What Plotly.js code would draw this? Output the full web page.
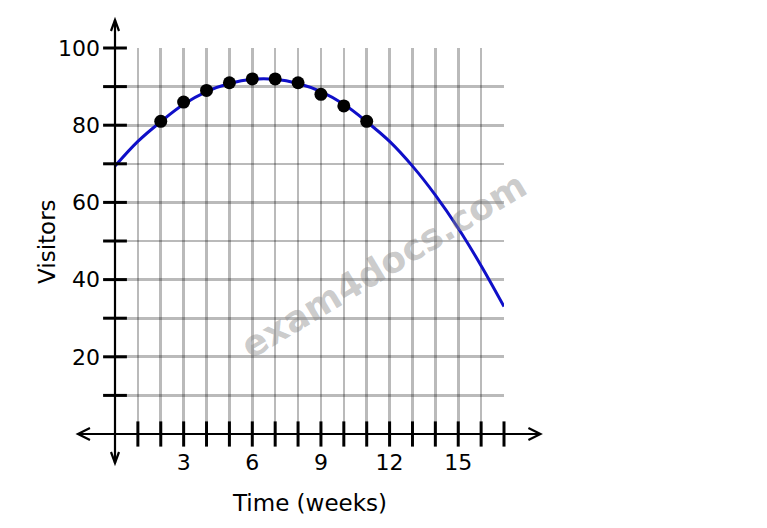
<!DOCTYPE html>
<html>
<head>
<meta charset="utf-8">
<script src="https://cdn.plot.ly/plotly-3.0.1.min.js"></script>
<style>html,body{margin:0;padding:0;background:#fff;}#chart{width:767px;height:528px;}</style>
</head>
<body>
<div id="chart"></div>
<script>
// Data
var curveWeeks = [0,1,2,3,4,5,6,7,8,9,10,11,12,13,14,15,16,17];
var curveVisitors = [69.4,75.8,80.9,85.4,88.7,90.8,91.9,91.9,90.8,88.7,85.4,80.9,75.8,69.4,61.9,53.3,43.6,33];
var pointWeeks = [2,3,4,5,6,7,8,9,10,11];
var pointVisitors = [81,86,89,91,92,92,91,88,85,81];
var xTickLabels = [3,6,9,12,15];
var yTickLabels = [20,40,60,80,100];
var xTickMarks = [1,2,3,4,5,6,7,8,9,10,11,12,13,14,15,16,17];
var yTickMarks = [10,20,30,40,50,60,70,80,90,100];

var W = 767, H = 528;
var M = {l:115, r:263.4, t:48, b:94};
var PW = W - M.l - M.r, PH = H - M.t - M.b;
function fx(px){ return (px - M.l) / PW; }
function fy(py){ return (H - M.b - py) / PH; }

var font = 'DejaVu Sans, sans-serif';
var gridCol = 'rgba(0,0,0,0.27)';

var traces = [
  {x: curveWeeks, y: curveVisitors, mode:'lines', line:{color:'#0f0fc8', width:3, shape:'spline'}, hoverinfo:'skip'},
  {x: pointWeeks, y: pointVisitors, mode:'markers', marker:{color:'#000', size:13}},
  {x: xTickMarks, y: xTickMarks.map(function(){return 0;}), mode:'markers', cliponaxis:false,
   marker:{symbol:'line-ns', size:18, line:{color:'#000', width:3}}},
  {x: yTickMarks.map(function(){return 0;}), y: yTickMarks, mode:'markers', cliponaxis:false,
   marker:{symbol:'line-ew', size:17, line:{color:'#000', width:3}}}
];

var axisY0 = fy(434), axisX0 = fx(115);
var shapes = [
  {type:'line', xref:'paper', yref:'paper', x0:fx(78), x1:fx(540), y0:axisY0, y1:axisY0, line:{color:'#000', width:2.2}},
  {type:'line', xref:'paper', yref:'paper', x0:axisX0, x1:axisX0, y0:fy(20), y1:fy(463), line:{color:'#000', width:2.2}},
  {type:'path', xref:'paper', yref:'paper', line:{color:'#000', width:2.2},
   path:'M'+fx(90)+','+fy(428)+' L'+fx(78)+','+fy(434)+' L'+fx(90)+','+fy(440)},
  {type:'path', xref:'paper', yref:'paper', line:{color:'#000', width:2.2},
   path:'M'+fx(528)+','+fy(428)+' L'+fx(540)+','+fy(434)+' L'+fx(528)+','+fy(440)},
  {type:'path', xref:'paper', yref:'paper', line:{color:'#000', width:2.2},
   path:'M'+fx(111)+','+fy(31)+' L'+fx(115)+','+fy(20)+' L'+fx(119)+','+fy(31)},
  {type:'path', xref:'paper', yref:'paper', line:{color:'#000', width:2.2},
   path:'M'+fx(111)+','+fy(452)+' L'+fx(115)+','+fy(463)+' L'+fx(119)+','+fy(452)}
];

var layout = {
  width: W, height: H,
  margin: M,
  paper_bgcolor:'#fff', plot_bgcolor:'#fff',
  showlegend:false,
  font:{family:font, size:22, color:'#000'},
  xaxis:{range:[0,17], tickmode:'array', tickvals:xTickLabels, ticks:'', ticklabelstandoff:13,
         showgrid:false, zeroline:false, showline:false,
         minor:{tickmode:'linear', tick0:0, dtick:1, showgrid:true, gridcolor:gridCol, gridwidth:2.6, ticks:''},
         tickfont:{family:font, size:22, color:'#000'}, fixedrange:true},
  yaxis:{range:[0,100], tickmode:'array', tickvals:yTickLabels, ticks:'', ticklabelstandoff:14,
         showgrid:false, zeroline:false, showline:false,
         minor:{tickmode:'linear', tick0:0, dtick:10, showgrid:true, gridcolor:gridCol, gridwidth:2.6, ticks:''},
         tickfont:{family:font, size:22, color:'#000'}, fixedrange:true},
  shapes: shapes,
  annotations:[
    {text:'Time (weeks)', xref:'paper', yref:'paper', x:0.5, y:fy(503), showarrow:false,
     xanchor:'center', yanchor:'middle', font:{family:font, size:23, color:'#000'}},
    {text:'Visitors', xref:'paper', yref:'paper', x:fx(47), y:0.5, showarrow:false, textangle:-90,
     xanchor:'center', yanchor:'middle', font:{family:font, size:23, color:'#000'}},
    {text:'<b>exam4docs.com</b>', xref:'paper', yref:'paper', x:fx(383), y:fy(265), showarrow:false, textangle:-31,
     xanchor:'center', yanchor:'middle', font:{family:font, size:36, color:'rgba(140,140,140,0.45)'}}
  ]
};

Plotly.newPlot('chart', traces, layout, {staticPlot:true, displayModeBar:false});
</script>
</body>
</html>
